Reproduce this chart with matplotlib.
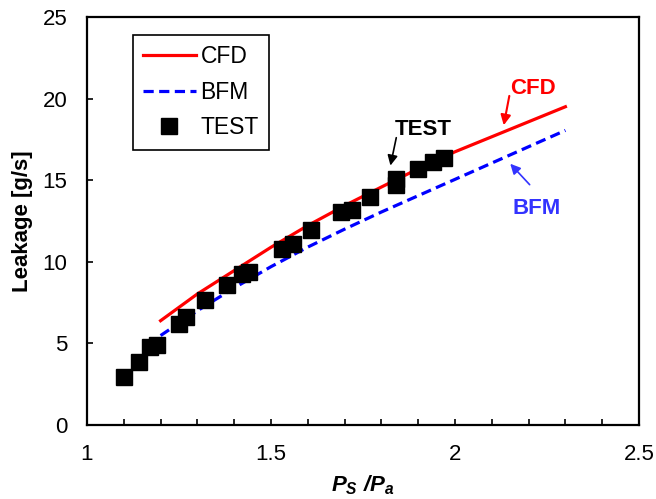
import matplotlib
matplotlib.use("Agg")
import matplotlib.pyplot as plt
from matplotlib.ticker import MultipleLocator

plt.rcParams['font.family'] = ['Liberation Sans', 'DejaVu Sans']
plt.rcParams['mathtext.fontset'] = 'custom'
plt.rcParams['mathtext.it'] = 'Liberation Sans:italic:bold'
plt.rcParams['mathtext.rm'] = 'Liberation Sans:bold'

# datos
test_x = [1.10, 1.14, 1.17, 1.19, 1.25, 1.27, 1.32, 1.38, 1.42, 1.44, 1.53,
          1.56, 1.61, 1.69, 1.72, 1.77, 1.84, 1.84, 1.90, 1.94, 1.97]
test_y = [2.92, 3.88, 4.76, 4.90, 6.19, 6.60, 7.63, 8.59, 9.26, 9.36, 10.79,
          11.10, 11.96, 13.04, 13.18, 13.96, 15.09, 14.70, 15.70, 16.11, 16.37]

cfd_x = [1.20, 1.30, 1.40, 1.50, 1.60, 1.70, 1.80, 1.90, 2.00, 2.10, 2.20, 2.30]
cfd_y = [6.39, 8.03, 9.46, 10.89, 12.22, 13.44, 14.58, 15.70, 16.74, 17.66, 18.58, 19.50]

bfm_x = [1.20, 1.30, 1.40, 1.50, 1.60, 1.70, 1.80, 1.90, 2.00, 2.10, 2.20, 2.30]
bfm_y = [5.48, 7.00, 8.40, 9.70, 10.90, 12.00, 13.05, 14.05, 15.05, 16.05, 17.05, 18.05]

fig = plt.figure(figsize=(6.56, 4.99), dpi=100)
ax = fig.add_axes([0.1326, 0.1483, 0.8415, 0.8177])

ax.plot(cfd_x, cfd_y, color='#ff0000', lw=2.3, label='CFD')
ax.plot(bfm_x, bfm_y, color='#0000ff', lw=2.3, ls=(0, (3.2, 1.7)), label='BFM')
ax.plot(test_x, test_y, ls='none', marker='s', ms=11, color='black', label='TEST')

# anotaciones
ax.text(2.213, 20.63, 'CFD', color='#ff0000', fontsize=16, fontweight='bold', ha='center', va='center')
ax.annotate('', xy=(2.131, 18.2), xytext=(2.149, 20.33),
            arrowprops=dict(arrowstyle='-|>', color='#ff0000', lw=1.5, mutation_scale=15))
ax.text(1.914, 18.08, 'TEST', color='black', fontsize=16, fontweight='bold', ha='center', va='center')
ax.annotate('', xy=(1.823, 15.73), xytext=(1.842, 17.77),
            arrowprops=dict(arrowstyle='-|>', color='black', lw=1.2, mutation_scale=15))
ax.text(2.222, 13.28, 'BFM', color='#3333ff', fontsize=16, fontweight='bold', ha='center', va='center')
ax.annotate('', xy=(2.145, 16.13), xytext=(2.208, 14.60),
            arrowprops=dict(arrowstyle='-|>', color='#3333ff', lw=1.2, mutation_scale=15))

ax.set_xlim(1, 2.5)
ax.set_ylim(0, 25)
ax.xaxis.set_major_locator(MultipleLocator(0.5))
ax.xaxis.set_minor_locator(MultipleLocator(0.1))
ax.yaxis.set_major_locator(MultipleLocator(5))
ax.set_xticks([1, 1.5, 2, 2.5], ['1', '1.5', '2', '2.5'])
ax.tick_params(axis='both', which='both', direction='in', length=4, width=1.2,
               labelsize=16, pad=14, top=False, right=False, colors='black')
ax.tick_params(axis='x', which='minor', labelbottom=False)
for s in ax.spines.values():
    s.set_linewidth(1.6)

ax.set_ylabel('Leakage [g/s]', fontsize=16, fontweight='bold', labelpad=7)
ax.set_xlabel(r'$P_S$ /$P_a$', fontsize=16, fontweight='bold', fontstyle='italic', labelpad=6)

leg = ax.legend(loc='upper left', bbox_to_anchor=(0.083, 0.956), borderaxespad=0,
                fancybox=False, edgecolor='black', framealpha=1, fontsize=16.5,
                handlelength=2.3, handletextpad=0.2, labelspacing=0.55, borderpad=0.45)
leg.get_frame().set_linewidth(1.2)

fig.savefig('out.png', dpi=100)
